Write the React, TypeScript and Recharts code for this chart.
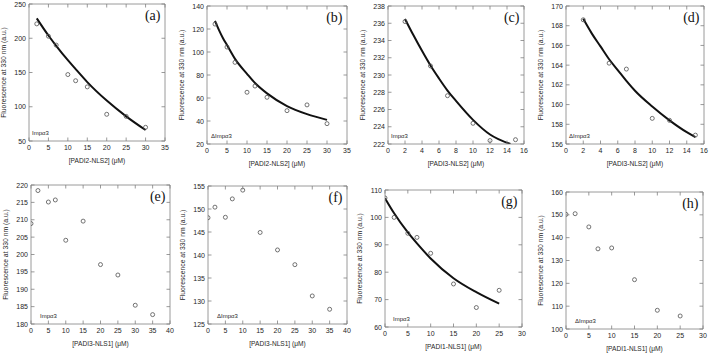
import React from 'react';
import { ComposedChart, Scatter, Line, XAxis, YAxis, ReferenceLine } from 'recharts';

// ---- measured fluorescence (a.u.) vs. peptide concentration (µM) ----
const concA = [2, 5, 7, 10, 12, 15, 20, 25, 30];
const fluorA = [221, 203, 190, 147, 138, 129, 89, 86, 70];
const fitConcA = [2, 5, 7, 10, 12, 15, 20, 25, 30];
const fitFluorA = [229, 204, 189, 168, 155, 136, 109, 86, 66];

const concB = [2, 5, 7, 10, 12, 15, 20, 25, 30];
const fluorB = [124.3, 104.3, 91, 65, 70.4, 60.6, 49, 54, 37.7];
const fitConcB = [2, 3, 4, 5, 7, 10, 12, 15, 20, 25, 30];
const fitFluorB = [127, 119, 112, 106, 94, 81, 73, 64, 53, 46, 41];

const concC = [2, 5, 7, 10, 12, 15];
const fluorC = [236.2, 231.05, 227.6, 224.4, 222.4, 222.5];
const fitConcC = [2, 3, 4, 5, 6, 7, 8, 10, 12, 14.4];
const fitFluorC = [236.5, 234.6, 232.8, 231.1, 229.6, 228.2, 227, 224.8, 223.1, 222];

const concD = [2, 5, 7, 10, 12, 15];
const fluorD = [168.6, 164.2, 163.6, 158.6, 158.4, 156.9];
const fitConcD = [2, 3, 4, 5, 6, 7, 8, 10, 12, 14, 15];
const fitFluorD = [168.7, 167.2, 165.9, 164.6, 163.5, 162.4, 161.4, 159.8, 158.4, 157.2, 156.7];

const concE = [0, 2, 5, 7, 10, 15, 20, 25, 30, 35];
const fluorE = [208.9, 218.4, 215.1, 215.7, 204.1, 209.6, 197.1, 194.1, 185.4, 182.7];

const concF = [0, 2, 5, 7, 10, 15, 20, 25, 30, 35];
const fluorF = [148.1, 150.4, 148.2, 152.2, 154.1, 144.9, 141.1, 137.9, 131.1, 128.2];

const concG = [0, 2, 5, 7, 10, 15, 20, 25];
const fluorG = [107.1, 100, 94.2, 92.7, 86.9, 75.7, 67.1, 73.4];
const fitConcG = [0, 2, 5, 7, 10, 15, 20, 25];
const fitFluorG = [107, 101.5, 94.5, 90.5, 85, 77.8, 72.7, 68.5];

const concH = [0, 2, 5, 7, 10, 15, 20, 25];
const fluorH = [150.2, 150.5, 144.7, 135.1, 135.5, 121.6, 108.2, 105.7];

// ---- axis ticks ----
const ticksX35 = [0, 5, 10, 15, 20, 25, 30, 35];
const ticksX40 = [0, 5, 10, 15, 20, 25, 30, 35, 40];
const ticksX30 = [0, 5, 10, 15, 20, 25, 30];
const ticksX16 = [0, 2, 4, 6, 8, 10, 12, 14, 16];
const ticksYA = [50, 100, 150, 200, 250];
const ticksYB = [20, 40, 60, 80, 100, 120, 140];
const ticksYC = [222, 224, 226, 228, 230, 232, 234, 236, 238];
const ticksYD = [156, 158, 160, 162, 164, 166, 168, 170];
const ticksYE = [180, 185, 190, 195, 200, 205, 210, 215, 220];
const ticksYF = [125, 130, 135, 140, 145, 150, 155];
const ticksYG = [60, 70, 80, 90, 100, 110];
const ticksYH = [100, 110, 120, 130, 140, 150, 160];

// ---- text ----
const yTitle = 'Fluorescence at 330 nm (a.u.)';
const xTitles = ['[PADI2-NLS2] (μM)', '[PADI3-NLS2] (μM)', '[PADI3-NLS1] (μM)', '[PADI1-NLS1] (μM)'];
const letters = ['(a)', '(b)', '(c)', '(d)', '(e)', '(f)', '(g)', '(h)'];
const receptors = ['Impα3', 'ΔImpα3'];

type Pt = { x: number; y: number };
const pair = (xs: number[], ys: number[]): Pt[] => xs.map((x, i) => ({ x, y: ys[i] }));

const AXIS = '#808080';
const INK = '#262626';
const SANS = '"Liberation Sans", Arial, Helvetica, sans-serif';
const SERIF = '"Liberation Serif", "Times New Roman", serif';
const Y_AXIS_W = 34;
const TOP = 8;
const X_AXIS_H = 30;
const RIGHT = 6;
const TL = 3.5;

type PanelProps = {
  left: number;
  top: number;
  pw: number;
  ph: number;
  xTicks: number[];
  yTicks: number[];
  points: Pt[];
  fit?: Pt[];
  letter: string;
  xTitle: string;
  receptor: string;
  receptorDx: number;
};

const makeXTick = (ph: number) => (props: any) => {
  const { x, y, payload } = props;
  return (
    <g>
      <line x1={x} x2={x} y1={y} y2={y - TL} stroke={AXIS} strokeWidth={0.8} />
      <line x1={x} x2={x} y1={y - ph} y2={y - ph + TL} stroke={AXIS} strokeWidth={0.8} />
      <text x={x} y={y + 8.5} textAnchor="middle" fontSize={7} fill={INK} fontFamily={SANS}>
        {payload.value}
      </text>
    </g>
  );
};

const makeYTick = (pw: number) => (props: any) => {
  const { x, y, payload } = props;
  return (
    <g>
      <line x1={x} x2={x + TL} y1={y} y2={y} stroke={AXIS} strokeWidth={0.8} />
      <line x1={x + pw} x2={x + pw - TL} y1={y} y2={y} stroke={AXIS} strokeWidth={0.8} />
      <text x={x - 3} y={y + 2.5} textAnchor="end" fontSize={7} fill={INK} fontFamily={SANS}>
        {payload.value}
      </text>
    </g>
  );
};

const Ring = (props: any) => {
  const { cx, cy } = props;
  return <circle cx={cx} cy={cy} r={2} fill="none" stroke="#505050" strokeWidth={0.8} />;
};

function Panel(p: PanelProps) {
  const width = Y_AXIS_W + p.pw + RIGHT;
  const height = TOP + p.ph + X_AXIS_H;
  const xMin = p.xTicks[0];
  const xMax = p.xTicks[p.xTicks.length - 1];
  const yMin = p.yTicks[0];
  const yMax = p.yTicks[p.yTicks.length - 1];
  const cy = TOP + p.ph / 2;
  const lx = Y_AXIS_W - 26;
  return (
    <div style={{ position: 'absolute', left: p.left - Y_AXIS_W, top: p.top - TOP, width, height }}>
      <ComposedChart width={width} height={height} margin={{ top: TOP, right: RIGHT, bottom: 0, left: 0 }}>
        <XAxis
          type="number"
          dataKey="x"
          domain={[xMin, xMax]}
          ticks={p.xTicks}
          interval={0}
          height={X_AXIS_H}
          tickSize={0}
          tickMargin={0}
          tickLine={false}
          axisLine={{ stroke: AXIS, strokeWidth: 0.8 }}
          tick={makeXTick(p.ph)}
          allowDataOverflow
        />
        <YAxis
          type="number"
          dataKey="y"
          domain={[yMin, yMax]}
          ticks={p.yTicks}
          interval={0}
          width={Y_AXIS_W}
          tickSize={0}
          tickMargin={0}
          tickLine={false}
          axisLine={{ stroke: AXIS, strokeWidth: 0.8 }}
          tick={makeYTick(p.pw)}
          allowDataOverflow
        />
        <ReferenceLine y={yMax} stroke={AXIS} strokeWidth={0.8} />
        <ReferenceLine x={xMax} stroke={AXIS} strokeWidth={0.8} />
        {p.fit && (
          <Line
            data={p.fit}
            dataKey="y"
            type="monotone"
            stroke="#111"
            strokeWidth={2}
            dot={false}
            activeDot={false}
            isAnimationActive={false}
          />
        )}
        <Scatter data={p.points} dataKey="y" shape={<Ring />} isAnimationActive={false} />
        <text
          x={lx}
          y={cy}
          transform={`rotate(-90, ${lx}, ${cy})`}
          textAnchor="middle"
          dominantBaseline="central"
          fontSize={6.8}
          fill={INK}
          fontFamily={SANS}
        >
          {yTitle}
        </text>
        <text
          x={Y_AXIS_W + p.pw / 2}
          y={TOP + p.ph + 22}
          textAnchor="middle"
          fontSize={6.6}
          fill={INK}
          fontFamily={SANS}
        >
          {p.xTitle}
        </text>
        <text
          x={Y_AXIS_W + p.pw - 4.5}
          y={TOP + 16}
          textAnchor="end"
          fontSize={14}
          fill="#111"
          fontFamily={SERIF}
        >
          {p.letter}
        </text>
        <text
          x={Y_AXIS_W + p.receptorDx}
          y={TOP + p.ph - 6.5}
          fontSize={6}
          fill={INK}
          fontFamily={SANS}
        >
          {p.receptor}
        </text>
      </ComposedChart>
    </div>
  );
}

const panels: PanelProps[] = [
  { left: 29, top: 4, pw: 136, ph: 137, xTicks: ticksX35, yTicks: ticksYA, points: pair(concA, fluorA), fit: pair(fitConcA, fitFluorA), letter: letters[0], xTitle: xTitles[0], receptor: receptors[0], receptorDx: 3 },
  { left: 207, top: 6, pw: 140, ph: 138, xTicks: ticksX35, yTicks: ticksYB, points: pair(concB, fluorB), fit: pair(fitConcB, fitFluorB), letter: letters[1], xTitle: xTitles[0], receptor: receptors[1], receptorDx: 4 },
  { left: 388, top: 6, pw: 136, ph: 138, xTicks: ticksX16, yTicks: ticksYC, points: pair(concC, fluorC), fit: pair(fitConcC, fitFluorC), letter: letters[2], xTitle: xTitles[1], receptor: receptors[0], receptorDx: 3 },
  { left: 566, top: 6, pw: 138, ph: 138, xTicks: ticksX16, yTicks: ticksYD, points: pair(concD, fluorD), fit: pair(fitConcD, fitFluorD), letter: letters[3], xTitle: xTitles[1], receptor: receptors[1], receptorDx: 3 },
  { left: 31, top: 185, pw: 139, ph: 139, xTicks: ticksX40, yTicks: ticksYE, points: pair(concE, fluorE), letter: letters[4], xTitle: xTitles[2], receptor: receptors[0], receptorDx: 9 },
  { left: 208, top: 186, pw: 139, ph: 138, xTicks: ticksX40, yTicks: ticksYF, points: pair(concF, fluorF), letter: letters[5], xTitle: xTitles[2], receptor: receptors[1], receptorDx: 9 },
  { left: 385, top: 190, pw: 137, ph: 137, xTicks: ticksX30, yTicks: ticksYG, points: pair(concG, fluorG), fit: pair(fitConcG, fitFluorG), letter: letters[6], xTitle: xTitles[3], receptor: receptors[0], receptorDx: 8 },
  { left: 566, top: 192, pw: 137, ph: 137, xTicks: ticksX30, yTicks: ticksYH, points: pair(concH, fluorH), letter: letters[7], xTitle: xTitles[3], receptor: receptors[1], receptorDx: 9 },
];

export default function App() {
  return (
    <div style={{ position: 'absolute', left: 0, top: 0, width: 709, height: 353, background: '#fff', overflow: 'hidden' }}>
      {panels.map((p) => (
        <Panel key={p.letter} {...p} />
      ))}
    </div>
  );
}
